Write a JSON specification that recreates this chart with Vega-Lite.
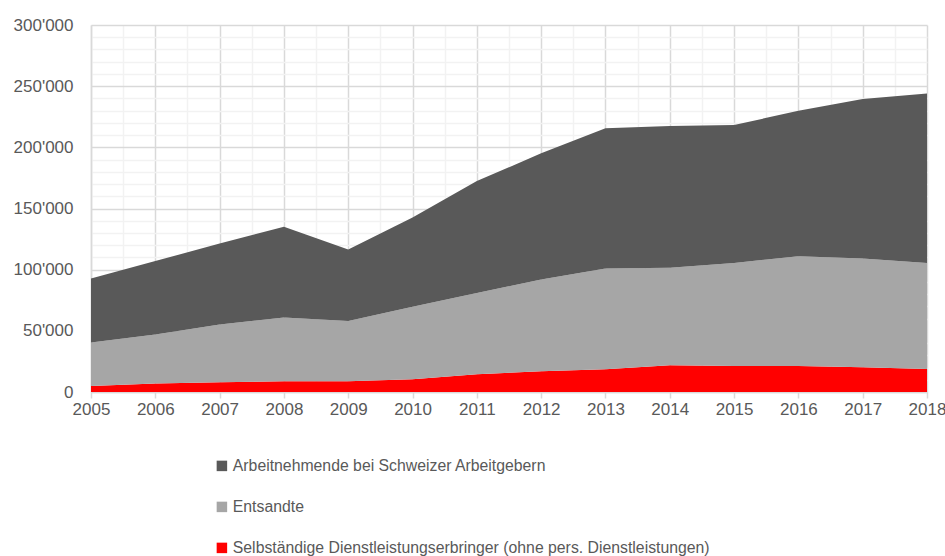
{
  "$schema": "https://vega.github.io/schema/vega-lite/v6.json",
  "autosize": "none",
  "width": 836,
  "height": 367,
  "padding": {"left": 91, "top": 25, "right": 18, "bottom": 164},
  "background": "white",
  "config": {
    "font": "Liberation Sans",
    "view": {"stroke": null}
  },
  "data": {
    "values": [
      {"Jahr": 2005, "Kategorie": "Selbständige Dienstleistungserbringer (ohne pers. Dienstleistungen)", "Rang": 1, "Anzahl": 4900},
      {"Jahr": 2006, "Kategorie": "Selbständige Dienstleistungserbringer (ohne pers. Dienstleistungen)", "Rang": 1, "Anzahl": 6900},
      {"Jahr": 2007, "Kategorie": "Selbständige Dienstleistungserbringer (ohne pers. Dienstleistungen)", "Rang": 1, "Anzahl": 7900},
      {"Jahr": 2008, "Kategorie": "Selbständige Dienstleistungserbringer (ohne pers. Dienstleistungen)", "Rang": 1, "Anzahl": 8800},
      {"Jahr": 2009, "Kategorie": "Selbständige Dienstleistungserbringer (ohne pers. Dienstleistungen)", "Rang": 1, "Anzahl": 8800},
      {"Jahr": 2010, "Kategorie": "Selbständige Dienstleistungserbringer (ohne pers. Dienstleistungen)", "Rang": 1, "Anzahl": 10400},
      {"Jahr": 2011, "Kategorie": "Selbständige Dienstleistungserbringer (ohne pers. Dienstleistungen)", "Rang": 1, "Anzahl": 14500},
      {"Jahr": 2012, "Kategorie": "Selbständige Dienstleistungserbringer (ohne pers. Dienstleistungen)", "Rang": 1, "Anzahl": 16900},
      {"Jahr": 2013, "Kategorie": "Selbständige Dienstleistungserbringer (ohne pers. Dienstleistungen)", "Rang": 1, "Anzahl": 18600},
      {"Jahr": 2014, "Kategorie": "Selbständige Dienstleistungserbringer (ohne pers. Dienstleistungen)", "Rang": 1, "Anzahl": 21800},
      {"Jahr": 2015, "Kategorie": "Selbständige Dienstleistungserbringer (ohne pers. Dienstleistungen)", "Rang": 1, "Anzahl": 21300},
      {"Jahr": 2016, "Kategorie": "Selbständige Dienstleistungserbringer (ohne pers. Dienstleistungen)", "Rang": 1, "Anzahl": 21300},
      {"Jahr": 2017, "Kategorie": "Selbständige Dienstleistungserbringer (ohne pers. Dienstleistungen)", "Rang": 1, "Anzahl": 20200},
      {"Jahr": 2018, "Kategorie": "Selbständige Dienstleistungserbringer (ohne pers. Dienstleistungen)", "Rang": 1, "Anzahl": 18800},
      {"Jahr": 2005, "Kategorie": "Entsandte", "Rang": 2, "Anzahl": 35500},
      {"Jahr": 2006, "Kategorie": "Entsandte", "Rang": 2, "Anzahl": 40100},
      {"Jahr": 2007, "Kategorie": "Entsandte", "Rang": 2, "Anzahl": 47200},
      {"Jahr": 2008, "Kategorie": "Entsandte", "Rang": 2, "Anzahl": 52100},
      {"Jahr": 2009, "Kategorie": "Entsandte", "Rang": 2, "Anzahl": 49300},
      {"Jahr": 2010, "Kategorie": "Entsandte", "Rang": 2, "Anzahl": 59200},
      {"Jahr": 2011, "Kategorie": "Entsandte", "Rang": 2, "Anzahl": 66500},
      {"Jahr": 2012, "Kategorie": "Entsandte", "Rang": 2, "Anzahl": 75100},
      {"Jahr": 2013, "Kategorie": "Entsandte", "Rang": 2, "Anzahl": 82400},
      {"Jahr": 2014, "Kategorie": "Entsandte", "Rang": 2, "Anzahl": 79700},
      {"Jahr": 2015, "Kategorie": "Entsandte", "Rang": 2, "Anzahl": 84200},
      {"Jahr": 2016, "Kategorie": "Entsandte", "Rang": 2, "Anzahl": 89700},
      {"Jahr": 2017, "Kategorie": "Entsandte", "Rang": 2, "Anzahl": 88900},
      {"Jahr": 2018, "Kategorie": "Entsandte", "Rang": 2, "Anzahl": 86700},
      {"Jahr": 2005, "Kategorie": "Arbeitnehmende bei Schweizer Arbeitgebern", "Rang": 3, "Anzahl": 52400},
      {"Jahr": 2006, "Kategorie": "Arbeitnehmende bei Schweizer Arbeitgebern", "Rang": 3, "Anzahl": 60000},
      {"Jahr": 2007, "Kategorie": "Arbeitnehmende bei Schweizer Arbeitgebern", "Rang": 3, "Anzahl": 66300},
      {"Jahr": 2008, "Kategorie": "Arbeitnehmende bei Schweizer Arbeitgebern", "Rang": 3, "Anzahl": 74100},
      {"Jahr": 2009, "Kategorie": "Arbeitnehmende bei Schweizer Arbeitgebern", "Rang": 3, "Anzahl": 58400},
      {"Jahr": 2010, "Kategorie": "Arbeitnehmende bei Schweizer Arbeitgebern", "Rang": 3, "Anzahl": 73100},
      {"Jahr": 2011, "Kategorie": "Arbeitnehmende bei Schweizer Arbeitgebern", "Rang": 3, "Anzahl": 91400},
      {"Jahr": 2012, "Kategorie": "Arbeitnehmende bei Schweizer Arbeitgebern", "Rang": 3, "Anzahl": 103100},
      {"Jahr": 2013, "Kategorie": "Arbeitnehmende bei Schweizer Arbeitgebern", "Rang": 3, "Anzahl": 114500},
      {"Jahr": 2014, "Kategorie": "Arbeitnehmende bei Schweizer Arbeitgebern", "Rang": 3, "Anzahl": 115900},
      {"Jahr": 2015, "Kategorie": "Arbeitnehmende bei Schweizer Arbeitgebern", "Rang": 3, "Anzahl": 112700},
      {"Jahr": 2016, "Kategorie": "Arbeitnehmende bei Schweizer Arbeitgebern", "Rang": 3, "Anzahl": 118900},
      {"Jahr": 2017, "Kategorie": "Arbeitnehmende bei Schweizer Arbeitgebern", "Rang": 3, "Anzahl": 130400},
      {"Jahr": 2018, "Kategorie": "Arbeitnehmende bei Schweizer Arbeitgebern", "Rang": 3, "Anzahl": 138600}
    ]
  },
  "mark": {"type": "area", "opacity": 1},
  "encoding": {
    "x": {
      "field": "Jahr",
      "type": "quantitative",
      "scale": {"domain": [2005, 2018], "nice": false, "zero": false},
      "axis": {
        "title": null,
        "values": [2005, 2005.5, 2006, 2006.5, 2007, 2007.5, 2008, 2008.5, 2009, 2009.5, 2010, 2010.5, 2011, 2011.5, 2012, 2012.5, 2013, 2013.5, 2014, 2014.5, 2015, 2015.5, 2016, 2016.5, 2017, 2017.5, 2018],
        "labelExpr": "datum.value % 1 === 0 ? '' + datum.value : ''",
        "labelFont": "Liberation Sans",
        "labelFontSize": 17,
        "labelColor": "#595959",
        "labelPadding": 3,
        "labelFlush": false,
        "labelOverlap": false,
        "domain": true,
        "domainColor": "#d9d9d9",
        "domainWidth": 1.5,
        "ticks": true,
        "tickSize": 6,
        "tickColor": "#d9d9d9",
        "tickWidth": 1.5,
        "tickOpacity": {"condition": {"test": "datum.value % 1 === 0", "value": 1}, "value": 0},
        "grid": true,
        "gridColor": {"condition": {"test": "datum.value % 1 === 0", "value": "#d9d9d9"}, "value": "#f2f2f2"},
        "gridWidth": 1.5
      }
    },
    "y": {
      "field": "Anzahl",
      "type": "quantitative",
      "aggregate": "sum",
      "stack": "zero",
      "scale": {"domain": [0, 300000], "nice": false},
      "axis": {
        "title": null,
        "values": [0, 10000, 20000, 30000, 40000, 50000, 60000, 70000, 80000, 90000, 100000, 110000, 120000, 130000, 140000, 150000, 160000, 170000, 180000, 190000, 200000, 210000, 220000, 230000, 240000, 250000, 260000, 270000, 280000, 290000, 300000],
        "labelExpr": "datum.value % 50000 === 0 ? replace(format(datum.value, ','), ',', \"'\") : ''",
        "labelFont": "Liberation Sans",
        "labelFontSize": 17,
        "labelColor": "#595959",
        "labelPadding": 18,
        "labelOverlap": false,
        "domain": true,
        "domainColor": "#d9d9d9",
        "domainWidth": 1.5,
        "ticks": false,
        "grid": true,
        "gridColor": {"condition": {"test": "datum.value % 50000 === 0", "value": "#d9d9d9"}, "value": "#f2f2f2"},
        "gridWidth": 1.5
      }
    },
    "color": {
      "field": "Kategorie",
      "type": "nominal",
      "scale": {
        "domain": ["Arbeitnehmende bei Schweizer Arbeitgebern", "Entsandte", "Selbständige Dienstleistungserbringer (ohne pers. Dienstleistungen)"],
        "range": ["#595959", "#a6a6a6", "#ff0000"]
      },
      "legend": {
        "title": null,
        "orient": "none",
        "legendX": 123,
        "legendY": 433,
        "direction": "vertical",
        "symbolType": "square",
        "symbolSize": 110,
        "symbolStrokeWidth": 0,
        "symbolOpacity": 1,
        "labelFont": "Liberation Sans",
        "labelFontSize": 15.8,
        "labelColor": "#595959",
        "labelOffset": 3,
        "rowPadding": 24,
        "padding": 0,
        "labelLimit": 600
      }
    },
    "order": {"field": "Rang", "type": "quantitative"}
  }
}
